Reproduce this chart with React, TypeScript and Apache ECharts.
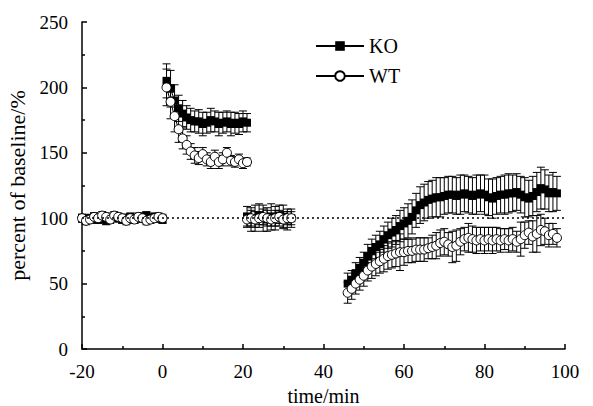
import React, { useEffect, useRef } from "react";
import * as echarts from "echarts";

// ---- data ----
const baseTimes = [-20, -19, -18, -17, -16, -15, -14, -13, -12, -11, -10, -9, -8, -7, -6, -5, -4, -3, -2, -1, 0];
const baseKO = [100, 99, 100, 101, 99, 100, 98, 100, 101, 100, 99, 100, 101, 99, 100, 101, 102, 100, 101, 100, 99];
const baseKOErr = [3, 3, 3, 3, 3, 3, 3, 3, 3, 3, 3, 3, 3, 3, 3, 3, 3, 3, 3, 3, 3];
const baseWT = [100, 98, 99, 101, 100, 102, 101, 99, 102, 101, 100, 98, 100, 99, 101, 100, 98, 99, 100, 101, 100];
const baseWTErr = [3, 3, 3, 3, 3, 3, 3, 3, 3, 3, 3, 3, 3, 3, 3, 3, 3, 3, 3, 3, 3];

const spikeTimes = [1, 2, 3, 4, 5, 6, 7, 8, 9, 10, 11, 12, 13, 14, 15, 16, 17, 18, 19, 20, 21];
const spikeKO = [205, 199, 190, 184, 180, 177, 175, 174, 174, 172, 173, 175, 174, 172, 173, 174, 172, 173, 172, 174, 173];
const spikeKOErr = [13, 14, 12, 10, 10, 9, 9, 8, 9, 9, 8, 9, 8, 9, 8, 8, 9, 8, 8, 8, 7];
const spikeWT = [200, 189, 178, 168, 161, 156, 151, 148, 146, 149, 145, 143, 147, 143, 145, 150, 144, 143, 145, 142, 143];
const spikeWTErr = [14, 13, 12, 10, 8, 7, 6, 6, 5, 5, 5, 5, 5, 5, 5, 4, 4, 4, 4, 4, 3];

const blockTimes = [21, 22, 23, 24, 25, 26, 27, 28, 29, 30, 31, 32];
const blockKO = [101, 99, 100, 102, 100, 99, 101, 100, 102, 101, 99, 100];
const blockKOErr = [8, 9, 10, 9, 10, 9, 10, 9, 8, 9, 8, 7];
const blockWT = [99, 100, 99, 100, 101, 100, 99, 100, 101, 99, 100, 100];
const blockWTErr = [5, 6, 6, 5, 6, 6, 5, 6, 5, 6, 5, 5];

const recTimes = [46, 47, 48, 49, 50, 51, 52, 53, 54, 55, 56, 57, 58, 59, 60, 61, 62, 63, 64, 65, 66, 67, 68, 69, 70, 71, 72, 73, 74, 75, 76, 77, 78, 79, 80, 81, 82, 83, 84, 85, 86, 87, 88, 89, 90, 91, 92, 93, 94, 95, 96, 97, 98];
const recKO = [50, 53, 58, 62, 66, 71, 75, 78, 80, 84, 87, 89, 91, 94, 96, 98, 101, 106, 110, 112, 114, 115, 116, 116, 117, 118, 118, 117, 118, 119, 118, 117, 118, 119, 118, 116, 115, 117, 118, 118, 119, 119, 120, 118, 116, 115, 117, 120, 123, 122, 119, 120, 119];
const recKOErr = [8, 7, 8, 8, 8, 9, 9, 9, 10, 10, 10, 11, 11, 12, 12, 13, 13, 13, 14, 14, 14, 14, 15, 15, 14, 14, 14, 14, 15, 14, 14, 14, 15, 14, 15, 14, 15, 14, 14, 15, 15, 14, 14, 14, 15, 14, 15, 15, 16, 15, 14, 15, 13];
const recWT = [43, 46, 50, 53, 56, 60, 63, 65, 67, 69, 71, 72, 73, 74, 74, 75, 75, 76, 76, 76, 77, 78, 79, 81, 82, 80, 78, 79, 82, 84, 85, 84, 83, 84, 83, 84, 83, 84, 83, 84, 83, 84, 82, 84, 87, 89, 86, 88, 91, 90, 87, 88, 85];
const recWTErr = [8, 8, 8, 8, 8, 8, 9, 9, 9, 10, 10, 10, 10, 14, 10, 9, 9, 9, 9, 9, 8, 9, 10, 10, 10, 9, 12, 12, 10, 9, 11, 10, 10, 9, 10, 9, 10, 9, 9, 8, 9, 9, 8, 13, 10, 9, 12, 14, 12, 10, 9, 8, 7];

const xTicks = { min: -20, max: 100, interval: 20 };
const yTicks = { min: 0, max: 250, interval: 50 };
const baselineLevel = 100;

type Seg = { t: number[]; v: number[]; e: number[] };
const koSegs: Seg[] = [
  { t: baseTimes, v: baseKO, e: baseKOErr },
  { t: spikeTimes, v: spikeKO, e: spikeKOErr },
  { t: blockTimes, v: blockKO, e: blockKOErr },
  { t: recTimes, v: recKO, e: recKOErr },
];
const wtSegs: Seg[] = [
  { t: baseTimes, v: baseWT, e: baseWTErr },
  { t: spikeTimes, v: spikeWT, e: spikeWTErr },
  { t: blockTimes, v: blockWT, e: blockWTErr },
  { t: recTimes, v: recWT, e: recWTErr },
];

function lineData(segs: Seg[]) {
  const out: any[] = [];
  segs.forEach((s, i) => {
    if (i > 0) out.push([s.t[0] - 0.5, "-"]);
    s.t.forEach((t, j) => out.push([t, s.v[j]]));
  });
  return out;
}
function errData(segs: Seg[]) {
  const out: any[] = [];
  segs.forEach((s) => s.t.forEach((t, j) => out.push([t, s.v[j], s.e[j]])));
  return out;
}

const FONT = "'Liberation Serif', 'Times New Roman', Times, serif";

function renderErr(params: any, api: any) {
  const x = api.value(0);
  const y = api.value(1);
  const e = api.value(2);
  const top = api.coord([x, y + e]);
  const bot = api.coord([x, y - e]);
  const hw = 4;
  const style = { stroke: "#000", lineWidth: 1, fill: "none" };
  return {
    type: "group",
    children: [
      { type: "line", shape: { x1: top[0], y1: top[1], x2: bot[0], y2: bot[1] }, style },
      { type: "line", shape: { x1: top[0] - hw, y1: top[1], x2: top[0] + hw, y2: top[1] }, style },
      { type: "line", shape: { x1: bot[0] - hw, y1: bot[1], x2: bot[0] + hw, y2: bot[1] }, style },
    ],
  };
}

export default function App() {
  const ref = useRef<HTMLDivElement>(null);
  useEffect(() => {
    if (!ref.current) return;
    const chart = echarts.init(ref.current, undefined, { renderer: "svg" });
    const tickCommon = {
      axisTick: { inside: true, length: 5, lineStyle: { color: "#000", width: 1.5 } },
      minorTick: { show: true, splitNumber: 2, length: 3, lineStyle: { color: "#000", width: 1.5 } },
      splitLine: { show: false },
    };
    chart.setOption({
      animation: false,
      backgroundColor: "#fff",
      textStyle: { fontFamily: FONT },
      grid: { left: 82, right: 28, top: 22, bottom: 57, outerBoundsMode: "none", containLabel: false },
      legend: {
        orient: "vertical",
        left: 310,
        top: 31,
        itemWidth: 48,
        itemHeight: 12,
        itemGap: 10,
        textStyle: { color: "#000", fontSize: 20, fontFamily: FONT },
        data: ["KO", "WT"],
      },
      xAxis: {
        type: "value",
        position: "bottom",
        ...xTicks,
        ...tickCommon,
        axisLine: { show: true, onZero: false, lineStyle: { color: "#000", width: 1.5 } },
        axisLabel: { color: "#000", fontSize: 19, fontFamily: FONT, margin: 13 },
        name: "time/min",
        nameLocation: "middle",
        nameGap: 34,
        nameTextStyle: { color: "#000", fontSize: 20, fontFamily: FONT },
      },
      yAxis: {
        type: "value",
        position: "left",
        ...yTicks,
        ...tickCommon,
        axisLine: { show: true, onZero: false, lineStyle: { color: "#000", width: 1.5 } },
        axisLabel: { color: "#000", fontSize: 19, fontFamily: FONT, margin: 14 },
        name: "percent of baseline/%",
        nameLocation: "middle",
        nameGap: 46,
        nameTextStyle: { color: "#000", fontSize: 22, fontFamily: FONT },
      },
      series: [
        {
          type: "custom",
          name: "KOerr",
          renderItem: renderErr,
          data: errData(koSegs),
          encode: { x: 0, y: 1 },
          z: 1,
          silent: true,
        },
        {
          type: "custom",
          name: "WTerr",
          renderItem: renderErr,
          data: errData(wtSegs),
          encode: { x: 0, y: 1 },
          z: 1,
          silent: true,
        },
        {
          type: "line",
          name: "KO",
          data: lineData(koSegs),
          symbol: "rect",
          symbolSize: 8,
          connectNulls: false,
          itemStyle: { color: "#000" },
          lineStyle: { color: "#000", width: 1 },
          z: 3,
          markLine: {
            silent: true,
            symbol: "none",
            label: { show: false },
            lineStyle: { color: "#000", type: [2, 3], width: 1.5 },
            data: [{ yAxis: baselineLevel }],
          },
        },
        {
          type: "line",
          name: "WT",
          data: lineData(wtSegs),
          symbol: "circle",
          symbolSize: 9,
          connectNulls: false,
          itemStyle: { color: "#fff", borderColor: "#000", borderWidth: 1 },
          lineStyle: { color: "#000", width: 1 },
          z: 4,
        },
      ],
    });
    return () => chart.dispose();
  }, []);
  return <div ref={ref} style={{ width: 593, height: 406, position: "absolute", left: 0, top: 0 }} />;
}
